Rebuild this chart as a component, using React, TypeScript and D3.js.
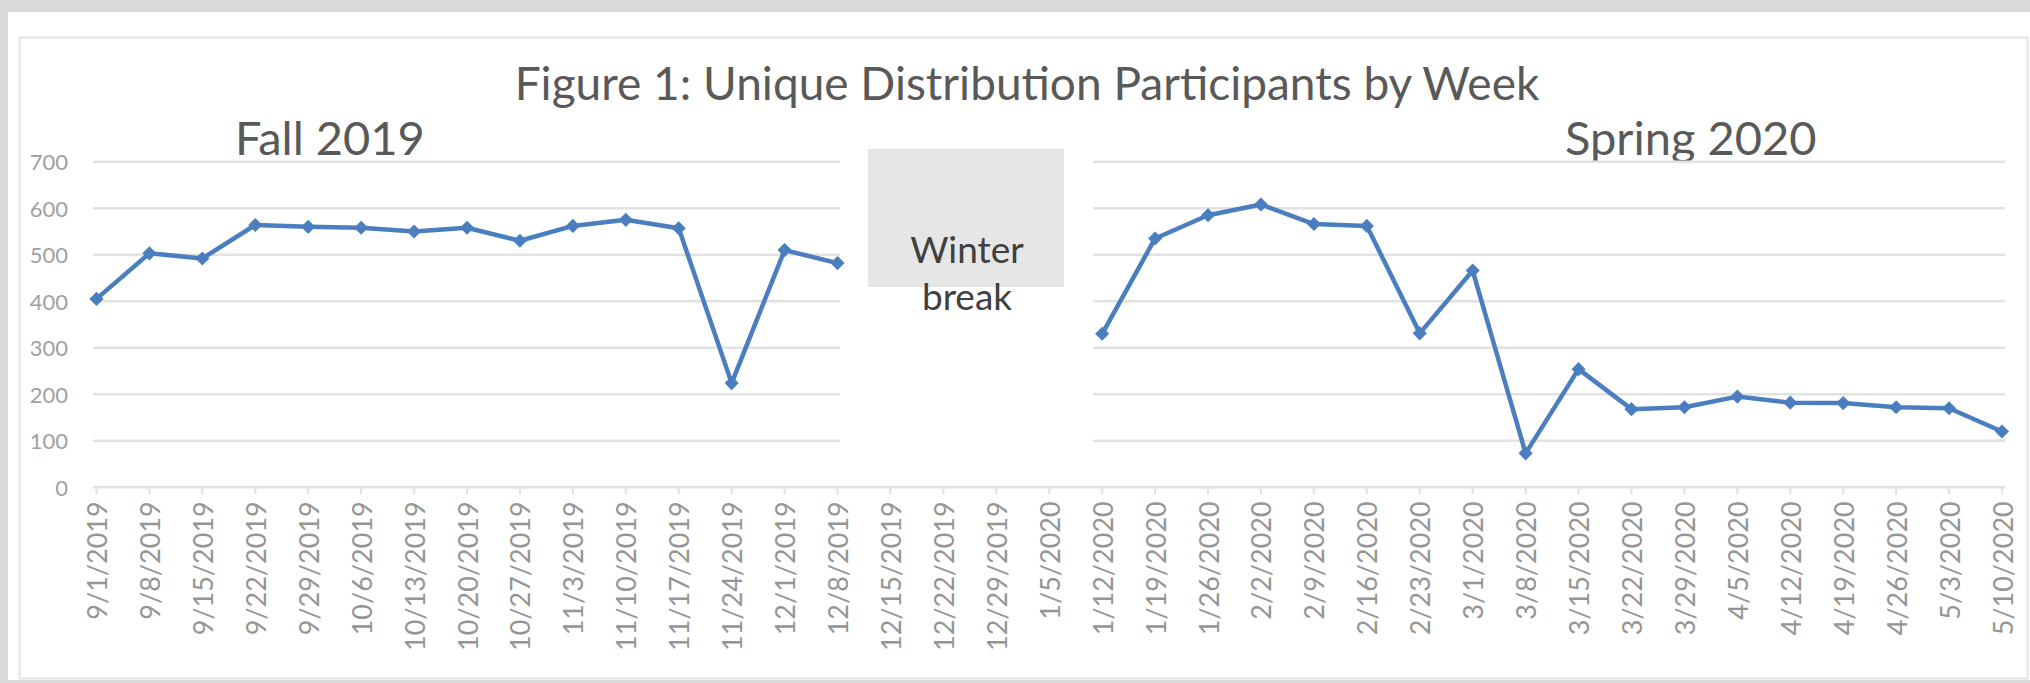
import React from "react";
import * as d3 from "d3";

// week labels on the category axis
const weeks = [
  "9/1/2019", "9/8/2019", "9/15/2019", "9/22/2019", "9/29/2019", "10/6/2019",
  "10/13/2019", "10/20/2019", "10/27/2019", "11/3/2019", "11/10/2019", "11/17/2019",
  "11/24/2019", "12/1/2019", "12/8/2019", "12/15/2019", "12/22/2019", "12/29/2019",
  "1/5/2020", "1/12/2020", "1/19/2020", "1/26/2020", "2/2/2020", "2/9/2020",
  "2/16/2020", "2/23/2020", "3/1/2020", "3/8/2020", "3/15/2020", "3/22/2020",
  "3/29/2020", "4/5/2020", "4/12/2020", "4/19/2020", "4/26/2020", "5/3/2020",
  "5/10/2020",
];

const fallValues = [405, 503, 492, 564, 560, 558, 550, 558, 530, 562, 575, 557, 224, 510, 482];
const breakValues = [null, null, null, null];
const springValues = [330, 535, 585, 608, 566, 562, 331, 466, 73, 254, 168, 172, 195, 182, 181, 172, 170, 120];

const yTicks = [0, 100, 200, 300, 400, 500, 600, 700];

const W = 2030;
const H = 683;
const FONT = "Lato, 'Open Sans', sans-serif";
const BLUE = "#4a7ebf";

export default function App() {
  const values: (number | null)[] = [...fallValues, ...breakValues, ...springValues];
  const data = weeks.map((w, i) => ({ week: w, value: values[i] }));

  const x = d3.scalePoint<string>().domain(weeks).range([96.5, 2002]);
  const y = d3.scaleLinear().domain([0, 700]).range([487.3, 161.7]);

  const line = d3
    .line<{ week: string; value: number | null }>()
    .defined(d => d.value !== null)
    .x(d => x(d.week) as number)
    .y(d => y(d.value as number));

  const marker = d3.symbol().type(d3.symbolSquare).size(100)();

  // gridline segments: fall panel and spring panel
  const fallStart = (x(weeks[0]) as number) - 3.5;
  const fallEnd = (x(weeks[14]) as number) + 2.5;
  const springStart = (x(weeks[19]) as number) - 9;
  const springEnd = (x(weeks[36]) as number) + 3;

  return (
    <svg
      width={W}
      height={H}
      style={{ position: "absolute", left: 0, top: 0, display: "block" }}
    >
      <rect x={0} y={0} width={W} height={H} fill="#d9d9d9" />
      <rect x={8} y={12} width={W - 8} height={668} fill="#ffffff" />
      <rect x={19.5} y={37.5} width={2008} height={641} fill="#ffffff" stroke="#e3e3e3" strokeWidth={2} />

      {/* title */}
      <text x={1027} y={100} textAnchor="middle" fontFamily={FONT} fontSize={46} fill="#595959">
        Figure 1: Unique Distribution Participants by Week
      </text>
      <text x={235} y={155} fontFamily={FONT} fontSize={47} fill="#595959">
        Fall 2019
      </text>
      <text x={1565} y={155} fontFamily={FONT} fontSize={47} fill="#595959">
        Spring 2020
      </text>

      {/* gridlines */}
      {yTicks.filter(t => t > 0).map(t => (
        <g key={t}>
          <line x1={fallStart} x2={fallEnd} y1={y(t)} y2={y(t)} stroke="#e2e2e2" strokeWidth={2.5} />
          <line x1={springStart} x2={springEnd} y1={y(t)} y2={y(t)} stroke="#e2e2e2" strokeWidth={2.5} />
        </g>
      ))}

      {/* category axis */}
      <line x1={fallStart} x2={springEnd} y1={y(0)} y2={y(0)} stroke="#e2e2e2" strokeWidth={2.5} />
      {weeks.map(w => (
        <line key={w} x1={x(w)} x2={x(w)} y1={y(0)} y2={y(0) + 7} stroke="#e2e2e2" strokeWidth={2} />
      ))}
      {weeks.map(w => (
        <text
          key={w}
          transform={`translate(${x(w)},${y(0) + 14}) rotate(-90)`}
          textAnchor="end"
          dominantBaseline="central"
          fontFamily={FONT}
          fontSize={27}
          fill="#959595"
        >
          {w}
        </text>
      ))}

      {/* value axis labels */}
      {yTicks.map(t => (
        <text
          key={t}
          x={68}
          y={y(t)}
          textAnchor="end"
          dominantBaseline="central"
          fontFamily={FONT}
          fontSize={22}
          fill="#a0a0a0"
        >
          {t}
        </text>
      ))}

      {/* winter break box */}
      <rect x={868} y={149} width={196} height={138} fill="#e6e6e6" />
      <text x={967} y={263} textAnchor="middle" fontFamily={FONT} fontSize={37} fill="#404040">
        Winter
      </text>
      <text x={967} y={310} textAnchor="middle" fontFamily={FONT} fontSize={37} fill="#404040">
        break
      </text>

      {/* series */}
      <path d={line(data) || ""} fill="none" stroke={BLUE} strokeWidth={4.5} strokeLinejoin="round" />
      {data
        .filter(d => d.value !== null)
        .map(d => (
          <path
            key={d.week}
            d={marker || ""}
            transform={`translate(${x(d.week)},${y(d.value as number)}) rotate(45)`}
            fill={BLUE}
          />
        ))}
    </svg>
  );
}
